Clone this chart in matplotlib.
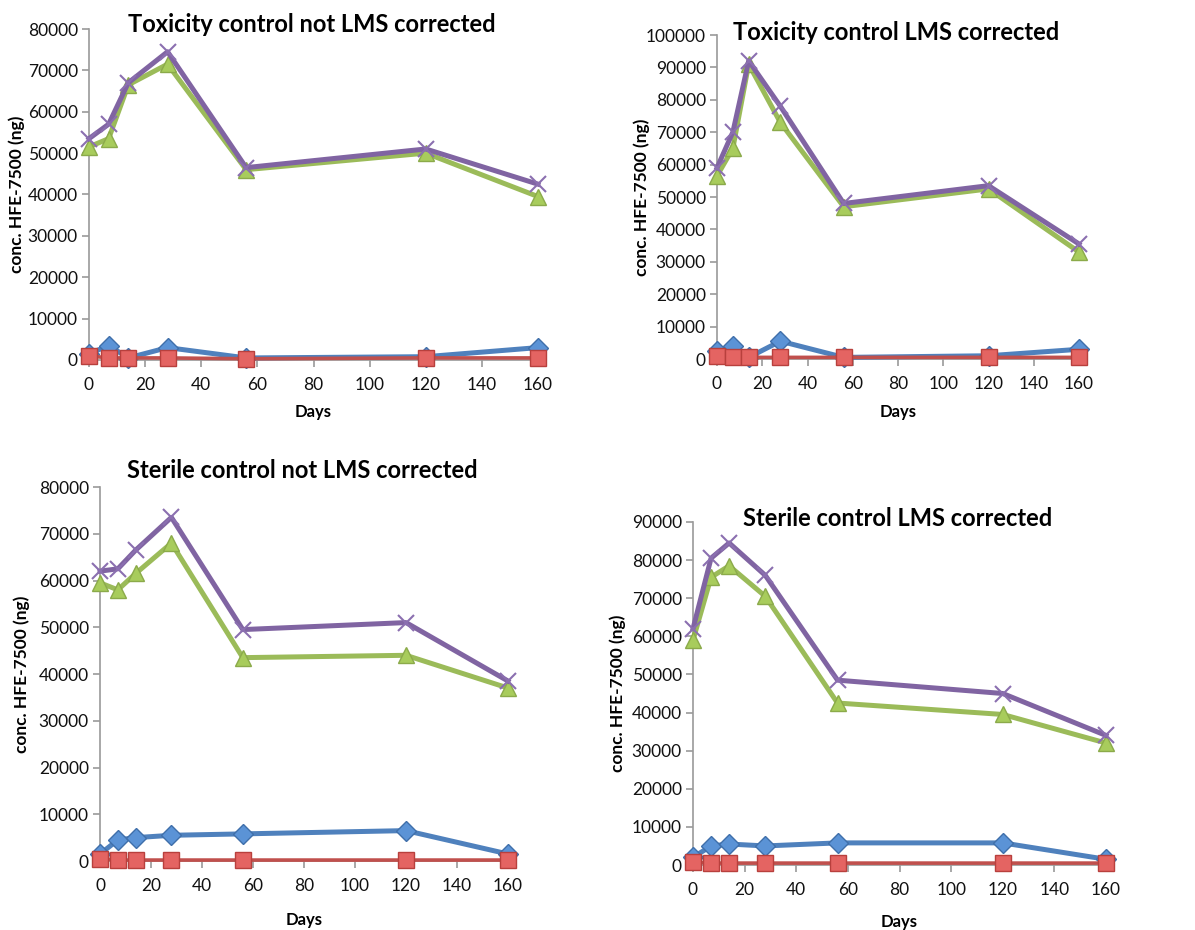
import matplotlib
matplotlib.use("Agg")
import matplotlib.pyplot as plt

plt.rcParams['font.family'] = ['Lato', 'DejaVu Sans']

days = [0, 7, 14, 28, 56, 120, 160]

# Toxicity control, not LMS corrected
tox_raw_blue = [1500, 3500, 500, 3000, 500, 800, 3000]
tox_raw_red = [1000, 500, 500, 500, 300, 500, 500]
tox_raw_green = [51500, 53500, 66500, 71500, 46000, 50000, 39500]
tox_raw_purple = [53500, 57000, 67000, 74500, 46500, 51000, 42500]

# Toxicity control, LMS corrected
tox_corr_blue = [2500, 4000, 500, 5500, 500, 1000, 3000]
tox_corr_red = [1000, 500, 500, 500, 500, 500, 500]
tox_corr_green = [56500, 65000, 91000, 73000, 47000, 52500, 33000]
tox_corr_purple = [59000, 70000, 92000, 78000, 48000, 53500, 35500]

# Sterile control, not LMS corrected
ster_raw_blue = [1500, 4500, 5000, 5500, 5800, 6500, 1500]
ster_raw_red = [500, 200, 200, 200, 200, 200, 200]
ster_raw_green = [59500, 58000, 61500, 68000, 43500, 44000, 37000]
ster_raw_purple = [62000, 62500, 66500, 73500, 49500, 51000, 38500]

# Sterile control, LMS corrected
ster_corr_blue = [2000, 5000, 5500, 5000, 5800, 5800, 1500]
ster_corr_red = [800, 500, 500, 500, 500, 500, 500]
ster_corr_green = [59000, 75500, 78500, 70500, 42500, 39500, 32000]
ster_corr_purple = [62000, 80500, 84500, 76000, 48500, 45000, 34000]

titles = ["Toxicity control not LMS corrected",
          "Toxicity control LMS corrected",
          "Sterile control not LMS corrected",
          "Sterile control LMS corrected"]
y_max = [80000, 100000, 80000, 90000]
x_ticks = [0, 20, 40, 60, 80, 100, 120, 140, 160]
y_label = "conc. HFE-7500 (ng)"
x_label = "Days"

panels = [
    (tox_raw_blue, tox_raw_red, tox_raw_green, tox_raw_purple),
    (tox_corr_blue, tox_corr_red, tox_corr_green, tox_corr_purple),
    (ster_raw_blue, ster_raw_red, ster_raw_green, ster_raw_purple),
    (ster_corr_blue, ster_corr_red, ster_corr_green, ster_corr_purple),
]

# axes rectangles in figure pixels: left, top, right, bottom
W, H = 1195, 930
boxes = [(89, 29, 538, 360), (717, 35, 1079, 359),
         (100, 487, 508, 861), (693, 522, 1106, 865)]
ylabel_x = [17, 642, 22, 618]
title_y = [25, 33, 470, 518]
xlabel_y = [412, 412, 920, 922]

styles = [
    dict(color="#4F81BD", marker="D", mfc="#5B93D6", mec="#3F6FAA", ms=10, lw=3.6),
    dict(color="#C0504D", marker="s", mfc="#E46462", mec="#B8403D", ms=12, lw=2.6),
    dict(color="#9BBB59", marker="^", mfc="#A8CC5C", mec="#8BAA4A", ms=12, lw=3.6),
    dict(color="#8064A2", marker="x", mfc="#8064A2", mec="#8B6FB0", ms=11, lw=3.6, mew=1.5),
]

fig = plt.figure(figsize=(W / 100, H / 100), dpi=100)
axis_gray = "#9a9a9a"

for i, series in enumerate(panels):
    l, t, r, b = boxes[i]
    ax = fig.add_axes([l / W, 1 - b / H, (r - l) / W, (b - t) / H])
    for vals, st in zip(series, styles):
        ax.plot(days, vals, clip_on=False, zorder=3, **st)
    ax.set_xlim(0, 160)
    ax.set_ylim(0, y_max[i])
    ax.set_xticks(x_ticks)
    ax.set_yticks(range(0, y_max[i] + 1, 10000))
    ax.tick_params(axis="both", labelsize=12.5, colors=axis_gray, labelcolor="#111111",
                   length=5, width=1.2, direction="out")
    ax.tick_params(axis="y", pad=3)
    ax.tick_params(axis="x", pad=7)
    for side in ("top", "right"):
        ax.spines[side].set_visible(False)
    for side in ("left", "bottom"):
        ax.spines[side].set_color(axis_gray)
        ax.spines[side].set_linewidth(1.2)
    cx = (l + r) / 2
    fig.text(cx / W, 1 - xlabel_y[i] / H, x_label, ha="center", va="center",
             fontsize=12, fontweight="bold")
    fig.text(ylabel_x[i] / W, 1 - (t + b) / 2 / H, y_label, ha="center", va="center",
             rotation=90, fontsize=12.5, fontweight="bold")
    fig.text((cx - 2) / W, 1 - title_y[i] / H, titles[i], ha="center", va="center",
             fontsize=17, fontweight="bold")

fig.savefig("out.png", dpi=100)
